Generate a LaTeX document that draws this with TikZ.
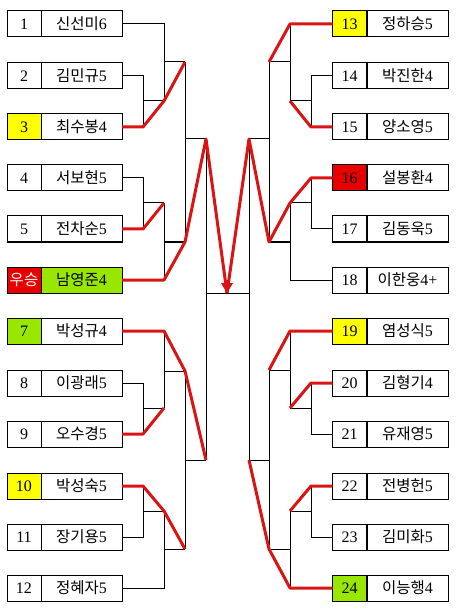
\documentclass[tikz,border=0pt]{standalone}
\usepackage{fontspec}
\setmainfont{Liberation Serif}
\newfontfamily\kr{Noto Sans CJK KR}
\usetikzlibrary{arrows.meta,calc}
\definecolor{cyel}{RGB}{255,255,0}
\definecolor{cgrn}{RGB}{153,230,0}
\definecolor{cred}{RGB}{232,0,0}
\definecolor{lred}{RGB}{218,20,20}
\newcommand{\krn}[2]{{\kr\fontsize{15.5}{16}\selectfont #1}#2}
\tikzset{
  numcell/.style={draw, line width=1pt, minimum width=34pt, minimum height=26pt,
    inner sep=0pt, outer sep=0pt, font=\fontsize{16}{16}\selectfont},
  namecell/.style={numcell, minimum width=81pt},
  link/.style={line width=1pt},
  win/.style={draw=lred, line width=3pt, line join=round}
}
\begin{document}
\begin{tikzpicture}[x=1pt,y=-1pt]
\useasboundingbox (0,0) rectangle (455,609);
% ---------- left boxes ----------
\node[numcell] (n1) at (24,24) {1};   \node[namecell] (m1) at (81.5,24) {\krn{신선미}{6}};
\node[numcell] (n2) at (24,76) {2};   \node[namecell] (m2) at (81.5,76) {\krn{김민규}{5}};
\node[numcell,fill=cyel] (n3) at (24,127) {3}; \node[namecell] (m3) at (81.5,127) {\krn{최수봉}{4}};
\node[numcell] (n4) at (24,178) {4};  \node[namecell] (m4) at (81.5,178) {\krn{서보현}{5}};
\node[numcell] (n5) at (24,229) {5};  \node[namecell] (m5) at (81.5,229) {\krn{전차순}{5}};
\node[numcell,fill=cred,text=white] (n6) at (24,280) {\krn{우승}{}}; \node[namecell,fill=cgrn] (m6) at (81.5,280) {\krn{남영준}{4}};
\node[numcell,fill=cgrn] (n7) at (24,331) {7}; \node[namecell] (m7) at (81.5,331) {\krn{박성규}{4}};
\node[numcell] (n8) at (24,383) {8};  \node[namecell] (m8) at (81.5,383) {\krn{이광래}{5}};
\node[numcell] (n9) at (24,434) {9};  \node[namecell] (m9) at (81.5,434) {\krn{오수경}{5}};
\node[numcell,fill=cyel] (n10) at (24,486) {10}; \node[namecell] (m10) at (81.5,486) {\krn{박성숙}{5}};
\node[numcell] (n11) at (24,537) {11}; \node[namecell] (m11) at (81.5,537) {\krn{장기용}{5}};
\node[numcell] (n12) at (24,588) {12}; \node[namecell] (m12) at (81.5,588) {\krn{정혜자}{5}};
% ---------- right boxes ----------
\node[numcell,fill=cyel] (n13) at (349.5,24) {13}; \node[namecell] (m13) at (407.5,24) {\krn{정하승}{5}};
\node[numcell] (n14) at (349.5,76) {14};  \node[namecell] (m14) at (407.5,76) {\krn{박진한}{4}};
\node[numcell] (n15) at (349.5,127) {15}; \node[namecell] (m15) at (407.5,127) {\krn{양소영}{5}};
\node[numcell,fill=cred] (n16) at (349.5,178) {16}; \node[namecell] (m16) at (407.5,178) {\krn{설봉환}{4}};
\node[numcell] (n17) at (349.5,229) {17}; \node[namecell] (m17) at (407.5,229) {\krn{김동욱}{5}};
\node[numcell] (n18) at (349.5,280) {18}; \node[namecell] (m18) at (407.5,280) {\krn{이한웅}{4+}};
\node[numcell,fill=cyel] (n19) at (349.5,331) {19}; \node[namecell] (m19) at (407.5,331) {\krn{염성식}{5}};
\node[numcell] (n20) at (349.5,383) {20}; \node[namecell] (m20) at (407.5,383) {\krn{김형기}{4}};
\node[numcell] (n21) at (349.5,434) {21}; \node[namecell] (m21) at (407.5,434) {\krn{유재영}{5}};
\node[numcell] (n22) at (349.5,486) {22}; \node[namecell] (m22) at (407.5,486) {\krn{전병헌}{5}};
\node[numcell] (n23) at (349.5,537) {23}; \node[namecell] (m23) at (407.5,537) {\krn{김미화}{5}};
\node[numcell,fill=cgrn] (n24) at (349.5,588) {24}; \node[namecell] (m24) at (407.5,588) {\krn{이능행}{4}};
% ---------- junction coordinates, left ----------
\coordinate (p23) at (143,101);  \coordinate (q23) at (164,101);
\coordinate (r1) at (164,62);    \coordinate (s1) at (185,62);
\coordinate (p45) at (143,203);  \coordinate (q45) at (164,203);
\coordinate (r2) at (164,242);   \coordinate (s2) at (185,242);
\coordinate (t1) at (185,139);   \coordinate (u1) at (206,139);
\coordinate (p89) at (143,408);  \coordinate (q89) at (164,408);
\coordinate (r3) at (164,371);   \coordinate (s3) at (185,371);
\coordinate (p1011) at (143,511); \coordinate (q1011) at (164,511);
\coordinate (r4) at (164,549);   \coordinate (s4) at (185,549);
\coordinate (t2) at (185,460);   \coordinate (u2) at (206,460);
\coordinate (cl) at (206,293);   \coordinate (cr) at (249,293);
\coordinate (tip) at (227,293);  \coordinate (tipup) at (227,280);
% ---------- junction coordinates, right ----------
\coordinate (P1415) at (311,101); \coordinate (Q1415) at (290,101);
\coordinate (R1) at (290,62);     \coordinate (S1) at (269,62);
\coordinate (P1617) at (311,203); \coordinate (Q1617) at (290,203);
\coordinate (R2) at (290,242);    \coordinate (S2) at (269,242);
\coordinate (T1) at (269,139);    \coordinate (U1) at (249,139);
\coordinate (P2021) at (311,408); \coordinate (Q2021) at (290,408);
\coordinate (R3) at (290,370);    \coordinate (S3) at (269,370);
\coordinate (P2223) at (311,511); \coordinate (Q2223) at (290,511);
\coordinate (R4) at (290,549);    \coordinate (S4) at (269,549);
\coordinate (T2) at (269,460);    \coordinate (U2) at (249,460);
% ---------- black bracket lines, left ----------
\draw[link] (m2.east) -| (p23); \draw[link] (m3.east) -| (p23); \draw[link] (p23) -- (q23);
\draw[link] (m1.east) -| (q23); \draw[link] (r1) -- (s1);
\draw[link] (m4.east) -| (p45); \draw[link] (m5.east) -| (p45); \draw[link] (p45) -- (q45);
\draw[link] (m6.east) -| (q45); \draw[link] (r2) -- (s2);
\draw[link] (s1) -- (s2); \draw[link] (t1) -- (u1);
\draw[link] (m8.east) -| (p89); \draw[link] (m9.east) -| (p89); \draw[link] (p89) -- (q89);
\draw[link] (m7.east) -| (q89); \draw[link] (r3) -- (s3);
\draw[link] (m10.east) -| (p1011); \draw[link] (m11.east) -| (p1011); \draw[link] (p1011) -- (q1011);
\draw[link] (m12.east) -| (q1011); \draw[link] (r4) -- (s4);
\draw[link] (s3) -- (s4); \draw[link] (t2) -- (u2);
\draw[link] (u1) -- (u2);
% ---------- black bracket lines, right ----------
\draw[link] (n14.west) -| (P1415); \draw[link] (n15.west) -| (P1415); \draw[link] (P1415) -- (Q1415);
\draw[link] (n13.west) -| (Q1415); \draw[link] (R1) -- (S1);
\draw[link] (n16.west) -| (P1617); \draw[link] (n17.west) -| (P1617); \draw[link] (P1617) -- (Q1617);
\draw[link] (n18.west) -| (Q1617); \draw[link] (R2) -- (S2);
\draw[link] (S1) -- (S2); \draw[link] (T1) -- (U1);
\draw[link] (n20.west) -| (P2021); \draw[link] (n21.west) -| (P2021); \draw[link] (P2021) -- (Q2021);
\draw[link] (n19.west) -| (Q2021); \draw[link] (R3) -- (S3);
\draw[link] (n22.west) -| (P2223); \draw[link] (n23.west) -| (P2223); \draw[link] (P2223) -- (Q2223);
\draw[link] (n24.west) -| (Q2223); \draw[link] (R4) -- (S4);
\draw[link] (S3) -- (S4); \draw[link] (T2) -- (U2);
\draw[link] (U1) -- (U2);
% centre
\draw[link] (cl) -- (cr);
% ---------- red winner paths, left ----------
\draw[win] (m3.east) -- (m3.east -| p23) -- (q23) -- (s1);
\draw[win] (m5.east) -- (m5.east -| p45) -- (q45);
\draw[win] (m6.east) -- (m6.east -| q45) -- (s2) -- (u1) -- (tip);
\draw[win] (m7.east) -- (m7.east -| q89) -- (s3) -- (u2);
\draw[win] (m9.east) -- (m9.east -| p89) -- (q89);
\draw[win] (m10.east) -- (m10.east -| p1011) -- (q1011) -- (s4);
% ---------- red winner paths, right ----------
\draw[win] (n13.west) -- (n13.west -| Q1415) -- (S1);
\draw[win] (n15.west) -- (n15.west -| P1415) -- (Q1415);
\draw[win] (n16.west) -- (n16.west -| P1617) -- (Q1617) -- (S2) -- (U1) -- (tip);
\draw[win] (n19.west) -- (n19.west -| Q2021) -- (S3);
\draw[win] (n20.west) -- (n20.west -| P2021) -- (Q2021);
\draw[win] (n22.west) -- (n22.west -| P2223) -- (Q2223);
\draw[win] (n24.west) -- (n24.west -| Q2223) -- (S4) -- (U2);
% arrow head
\draw[draw=lred, line width=1pt, -{Triangle[width=12pt,length=10pt]}, color=lred] (tipup) -- (tip);
\end{tikzpicture}
\end{document}
